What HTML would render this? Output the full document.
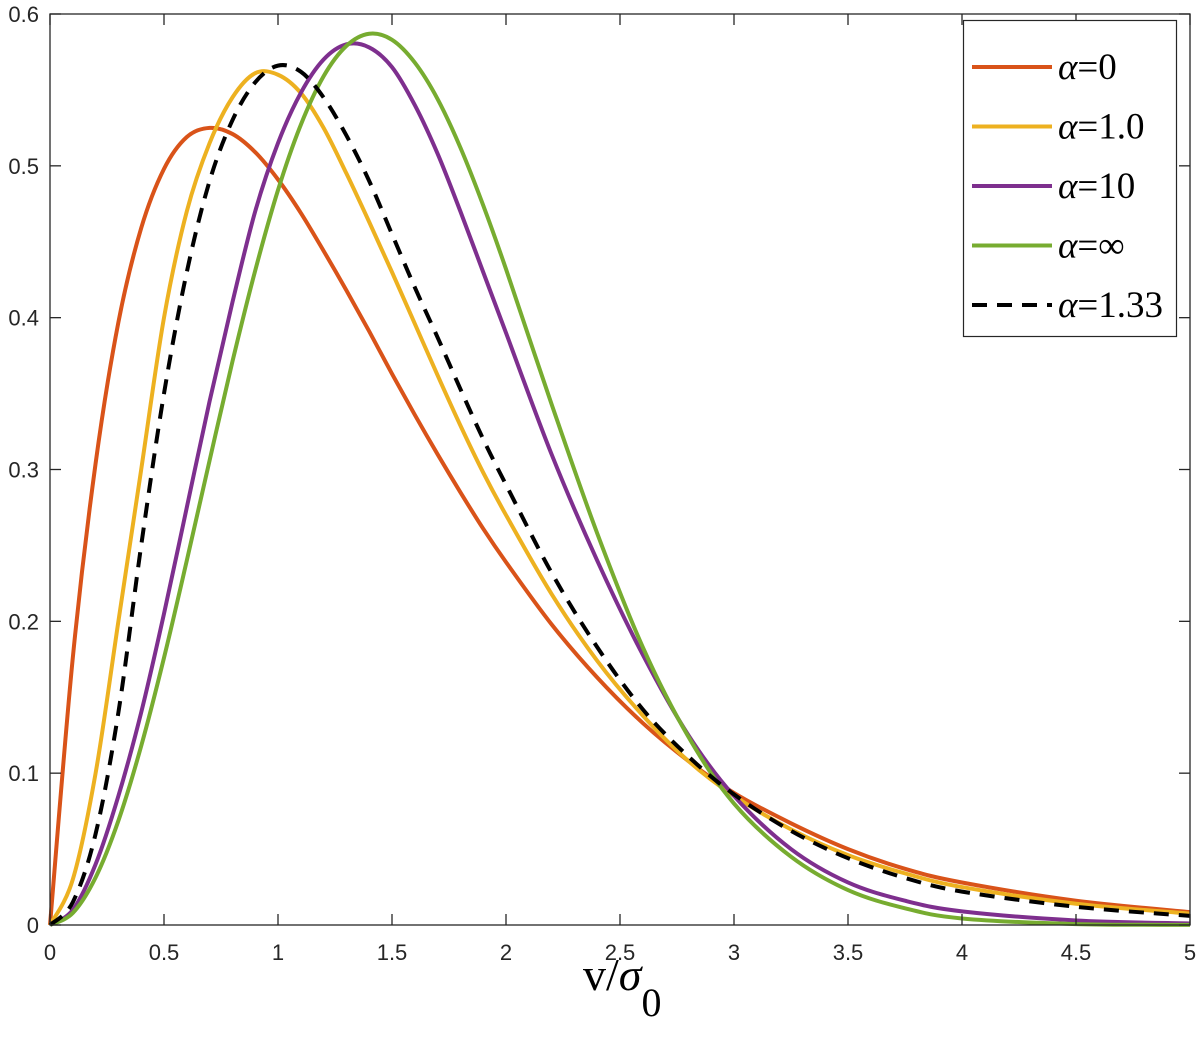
<!DOCTYPE html>
<html><head><meta charset="utf-8">
<style>
html,body{margin:0;padding:0;background:#fff;}
svg{display:block;}
.tk{font-family:"Liberation Sans",sans-serif;font-size:22px;fill:#262626;}
.lg{font-family:"Liberation Serif",serif;font-size:37px;fill:#000;}
</style></head>
<body>
<svg id="chart" width="1200" height="1041" viewBox="0 0 1200 1041">
<g id="plot"></g>
<g id="axes"></g>
<text x="583" y="990" class="lg" style="font-size:46px">v/<tspan font-style="italic">σ</tspan><tspan dy="26" font-size="40">0</tspan></text>
<g id="legend">
<rect x="963.5" y="20.5" width="213" height="316" fill="#fff" stroke="#262626" stroke-width="1.2"/>
</g>
</svg>
<script>
const vGrid = [0,0.1,0.2,0.3,0.4,0.5,0.6,0.7,0.8,0.9,1.0,1.1,1.2,1.3,1.4,1.5,1.6,1.7,1.8,1.9,2.0,2.2,2.4,2.6,2.8,3.0,3.25,3.5,3.75,4.0,4.5,5.0];
const alpha0 = [0,0.176,0.304,0.397,0.459,0.498,0.519,0.525,0.521,0.509,0.491,0.469,0.444,0.418,0.391,0.363,0.336,0.310,0.285,0.261,0.239,0.198,0.163,0.133,0.108,0.087,0.067,0.050,0.037,0.028,0.016,0.0085];
const alpha1 = [0,0.03,0.10,0.20,0.30,0.40,0.47,0.515,0.545,0.561,0.560,0.548,0.525,0.495,0.463,0.430,0.396,0.362,0.329,0.298,0.270,0.218,0.174,0.138,0.108,0.085,0.063,0.046,0.034,0.025,0.014,0.0075];
const alpha10 = [0,0.01,0.04,0.085,0.14,0.205,0.275,0.345,0.41,0.47,0.515,0.548,0.57,0.58,0.578,0.565,0.54,0.508,0.47,0.43,0.39,0.31,0.24,0.178,0.125,0.085,0.05,0.028,0.016,0.009,0.003,0.001];
const alphaInf = [0,0.0079,0.0313,0.0687,0.1179,0.176,0.240,0.306,0.371,0.431,0.484,0.527,0.559,0.579,0.587,0.583,0.568,0.544,0.512,0.474,0.432,0.343,0.258,0.183,0.124,0.080,0.045,0.023,0.011,0.0043,0.0006,0.0001];
const alpha133 = [0,0.015,0.06,0.14,0.25,0.35,0.43,0.49,0.53,0.555,0.566,0.562,0.545,0.52,0.49,0.455,0.42,0.387,0.353,0.32,0.29,0.232,0.183,0.142,0.111,0.086,0.062,0.044,0.031,0.022,0.012,0.006];
const xTicks = [0,0.5,1,1.5,2,2.5,3,3.5,4,4.5,5];
const xTickLabels = ["0","0.5","1","1.5","2","2.5","3","3.5","4","4.5","5"];
const yTicks = [0,0.1,0.2,0.3,0.4,0.5,0.6];
const yTickLabels = ["0","0.1","0.2","0.3","0.4","0.5","0.6"];
const seriesNames = ["α=0","α=1.0","α=10","α=∞","α=1.33"];

const X0=50,X1=1190,Y0=925,Y1=14;
function sx(v){return X0+(v-0)/(5-0)*(X1-X0);}
function sy(f){return Y0-(f-0)/(0.6-0)*(Y0-Y1);}
const NS="http://www.w3.org/2000/svg";
const plot=document.getElementById('plot');
const axes=document.getElementById('axes');
const legend=document.getElementById('legend');

const series=[
 {d:alpha0,c:"#D95319",dash:null,n:"series-alpha-0"},
 {d:alpha1,c:"#EDB120",dash:null,n:"series-alpha-1"},
 {d:alpha10,c:"#7E2F8E",dash:null,n:"series-alpha-10"},
 {d:alphaInf,c:"#77AC30",dash:null,n:"series-alpha-inf"},
 {d:alpha133,c:"#000000",dash:"15,10",n:"series-alpha-1-33"}
];
function pathFor(arr){
 const pts=vGrid.map((v,i)=>[sx(v),sy(arr[i])]);
 let d="M"+pts[0][0]+","+pts[0][1];
 for(let i=0;i<pts.length-1;i++){
  const p0=pts[Math.max(0,i-1)],p1=pts[i],p2=pts[i+1],p3=pts[Math.min(pts.length-1,i+2)];
  const c1=[p1[0]+(p2[0]-p0[0])/6,p1[1]+(p2[1]-p0[1])/6];
  const c2=[p2[0]-(p3[0]-p1[0])/6,p2[1]-(p3[1]-p1[1])/6];
  d+=" C"+c1[0]+","+c1[1]+" "+c2[0]+","+c2[1]+" "+p2[0]+","+p2[1];
 }
 return d;
}
series.forEach(s=>{
 const p=document.createElementNS(NS,'path');
 p.setAttribute('d',pathFor(s.d));
 p.setAttribute('fill','none');
 p.setAttribute('stroke',s.c);
 p.setAttribute('stroke-width','4');
 if(s.dash)p.setAttribute('stroke-dasharray',s.dash);
 
 
 plot.appendChild(p);
});

const fr=document.createElementNS(NS,'rect');
fr.setAttribute('x',X0);fr.setAttribute('y',Y1);
fr.setAttribute('width',X1-X0);fr.setAttribute('height',Y0-Y1);
fr.setAttribute('fill','none');fr.setAttribute('stroke','#262626');fr.setAttribute('stroke-width','1.3');


axes.appendChild(fr);

function line(x1,y1,x2,y2,name){
 const l=document.createElementNS(NS,'line');
 l.setAttribute('x1',x1);l.setAttribute('y1',y1);l.setAttribute('x2',x2);l.setAttribute('y2',y2);
 l.setAttribute('stroke','#262626');l.setAttribute('stroke-width','1.3');
 
 
 axes.appendChild(l);
}
xTicks.forEach((t,i)=>{
 const x=sx(t);
 line(x,Y0,x,Y0-11,'x-tick');
 line(x,Y1,x,Y1+11,'x-tick-top');
 const tx=document.createElementNS(NS,'text');
 tx.setAttribute('x',x);tx.setAttribute('y',Y0+35);
 tx.setAttribute('text-anchor','middle');tx.setAttribute('class','tk');
 tx.textContent=xTickLabels[i];
 
 
 axes.appendChild(tx);
});
yTicks.forEach((t,i)=>{
 const y=sy(t);
 line(X0,y,X0+11,y,'y-tick');
 line(X1,y,X1-11,y,'y-tick-right');
 const tx=document.createElementNS(NS,'text');
 tx.setAttribute('x',X0-11);tx.setAttribute('y',y+8);
 tx.setAttribute('text-anchor','end');tx.setAttribute('class','tk');
 tx.textContent=yTickLabels[i];
 
 
 axes.appendChild(tx);
});

series.forEach((s,i)=>{
 const y=67+i*59.5;
 const l=document.createElementNS(NS,'line');
 l.setAttribute('x1',972);l.setAttribute('x2',1052);l.setAttribute('y1',y);l.setAttribute('y2',y);
 l.setAttribute('stroke',s.c);l.setAttribute('stroke-width','4');
 if(s.dash)l.setAttribute('stroke-dasharray','15,10');
 
 
 legend.appendChild(l);
 const t=document.createElementNS(NS,'text');
 t.setAttribute('x',1058);t.setAttribute('y',y+12);t.setAttribute('class','lg');
 const name=seriesNames[i];
 const a=document.createElementNS(NS,'tspan');a.setAttribute('font-style','italic');a.textContent=name.charAt(0);
 t.appendChild(a);
 t.appendChild(document.createTextNode(name.slice(1)));
 
 
 legend.appendChild(t);
});
</script>
</body></html>
